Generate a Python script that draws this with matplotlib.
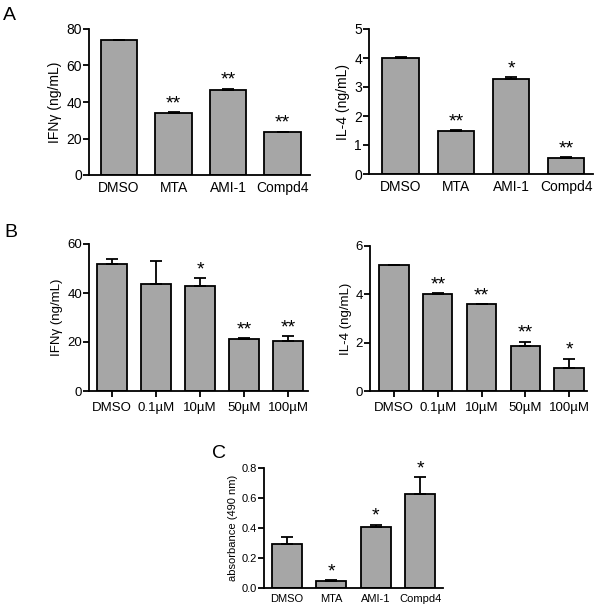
import matplotlib
matplotlib.use("Agg")
import matplotlib.pyplot as plt
import numpy as np

plt.rcParams['font.family'] = ['Liberation Sans', 'DejaVu Sans']

# panel A
a_cats = ["DMSO", "MTA", "AMI-1", "Compd4"]
a_ifn = [73.8, 34.2, 46.7, 23.5]
a_ifn_err = [0.3, 0.2, 0.5, 0.2]
a_ifn_sig = ["", "**", "**", "**"]
a_il4 = [4.01, 1.48, 3.29, 0.55]
a_il4_err = [0.04, 0.03, 0.04, 0.02]
a_il4_sig = ["", "**", "*", "**"]

# panel B
b_cats = ["DMSO", "0.1µM", "10µM", "50µM", "100µM"]
b_ifn = [52.0, 43.8, 43.0, 21.2, 20.5]
b_ifn_err = [1.7, 9.4, 3.0, 0.4, 1.8]
b_ifn_sig = ["", "", "*", "**", "**"]
b_il4 = [5.22, 4.00, 3.58, 1.86, 0.94]
b_il4_err = [0.0, 0.05, 0.0, 0.18, 0.40]
b_il4_sig = ["", "**", "**", "**", "*"]

# panel C
c_cats = ["DMSO", "MTA", "AMI-1", "Compd4"]
c_abs = [0.292, 0.046, 0.408, 0.630]
c_abs_err = [0.051, 0.006, 0.013, 0.108]
c_abs_sig = ["", "*", "*", "*"]

W, H = 597, 607
fig = plt.figure(figsize=(W / 100, H / 100), dpi=100)


def box(x0, x1, y0, y1):
    # pixel box -> figure fraction
    return [x0 / W, 1 - y1 / H, (x1 - x0) / W, (y1 - y0) / H]


def panel(rect, cats, vals, errs, sig, ylim, yticks, ylabel, xlim,
          fs=10, sfs=14, xticks=False, yfmt=None):
    ax = fig.add_axes(rect)
    x = np.arange(len(cats))
    ax.bar(x, vals, width=0.67, color="#a6a6a6", edgecolor="black",
           linewidth=1.3, zorder=2)
    ax.errorbar(x, vals, yerr=[np.zeros(len(vals)), errs], fmt="none",
                ecolor="black", elinewidth=1.3, capsize=4.5, capthick=1.3,
                zorder=3)
    for xi, v, e, s in zip(x, vals, errs, sig):
        if s:
            ax.annotate(s, (xi, v + e), xytext=(0, 0), textcoords="offset points",
                        ha="center", va="bottom", fontsize=sfs)
    ax.set_xlim(*xlim)
    ax.set_ylim(*ylim)
    ax.set_yticks(yticks)
    if yfmt:
        ax.set_yticklabels([yfmt % t for t in yticks])
    ax.set_xticks(x)
    ax.set_xticklabels(cats, fontsize=fs)
    ax.tick_params(axis="y", labelsize=fs, length=4, width=1.3, pad=1)
    ax.tick_params(axis="x", length=4 if xticks else 0, width=1.3, pad=4)
    ax.set_ylabel(ylabel, fontsize=fs, labelpad=3)
    for sp in ("top", "right"):
        ax.spines[sp].set_visible(False)
    for sp in ("left", "bottom"):
        ax.spines[sp].set_linewidth(1.3)
    return ax


panel(box(89, 310, 29, 175), a_cats, a_ifn, a_ifn_err, a_ifn_sig,
      (0, 80), [0, 20, 40, 60, 80], "IFNγ (ng/mL)", (-0.55, 3.5))
panel(box(369, 593, 29, 174), a_cats, a_il4, a_il4_err, a_il4_sig,
      (0, 5), [0, 1, 2, 3, 4, 5], "IL-4 (ng/mL)", (-0.58, 3.49))
panel(box(89, 308, 244, 391), b_cats, b_ifn, b_ifn_err, b_ifn_sig,
      (0, 60), [0, 20, 40, 60], "IFNγ (ng/mL)", (-0.52, 4.45), fs=9.5, xticks=True)
panel(box(370, 587, 246, 391), b_cats, b_il4, b_il4_err, b_il4_sig,
      (0, 6), [0, 2, 4, 6], "IL-4 (ng/mL)", (-0.55, 4.41), fs=9.5, xticks=True)
panel(box(264, 443, 468, 588), c_cats, c_abs, c_abs_err, c_abs_sig,
      (0, 0.8), [0, 0.2, 0.4, 0.6, 0.8], "absorbance (490 nm)", (-0.51, 3.51),
      fs=8, sfs=14, yfmt="%.1f")

fig.text(3 / W, 1 - 7 / H, "A", fontsize=14, ha="left", va="top")
fig.text(4 / W, 1 - 224 / H, "B", fontsize=14, ha="left", va="top")
fig.text(212 / W, 1 - 445 / H, "C", fontsize=14, ha="left", va="top")

fig.savefig("out.png", dpi=100)
